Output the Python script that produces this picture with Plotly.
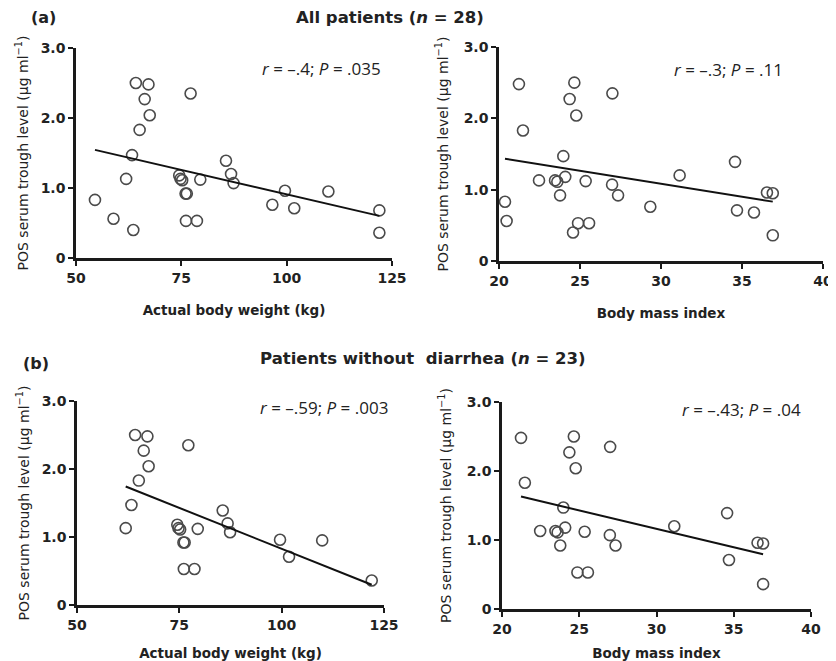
import numpy as np
import plotly.graph_objects as go

# Per-patient data (n = 28)
weight_kg = [54.5, 58.9, 63.6, 96.6, 122.0, 61.9, 63.3, 65.1, 64.2, 67.2, 66.3, 67.5, 77.2, 74.5,
             74.8, 75.2, 76.0, 76.3, 76.1, 78.7, 79.5, 85.6, 86.8, 87.4, 99.6, 101.8, 109.9, 122.0]
bmi = [20.37, 20.47, 24.57, 29.34, 35.74, 22.47, 23.97, 21.48, 24.65, 21.23, 24.36, 24.77, 27.0, 24.09,
       23.46, 23.6, 23.77, 27.35, 24.88, 25.56, 25.35, 34.57, 31.15, 26.98, 36.54, 34.69, 36.9, 36.9]
trough = [0.83, 0.56, 0.40, 0.76, 0.68, 1.13, 1.47, 1.83, 2.50, 2.48, 2.27, 2.04, 2.35, 1.18,
          1.13, 1.11, 0.92, 0.92, 0.53, 0.53, 1.12, 1.39, 1.20, 1.07, 0.96, 0.71, 0.95, 0.36]
diarrhea = [1, 1, 1, 1, 1, 0, 0, 0, 0, 0, 0, 0, 0, 0,
            0, 0, 0, 0, 0, 0, 0, 0, 0, 0, 0, 0, 0, 0]

stats_text = ["<i>r</i> = –.4; <i>P</i> = .035", "<i>r</i> = –.3; <i>P</i> = .11",
              "<i>r</i> = –.59; <i>P</i> = .003", "<i>r</i> = –.43; <i>P</i> = .04"]
y_ticks = [0, 1, 2, 3]
y_tick_labels = ["0", "1.0", "2.0", "3.0"]
weight_ticks = [50, 75, 100, 125]
bmi_ticks = [20, 25, 30, 35, 40]

# the page body margin offsets the figure by 8px; size the figure to fill the window
OFF = 8
W, H = 836 - OFF, 661 - OFF
def fx(p): return (p - OFF) / W
def fy(p): return 1 - (p - OFF) / H

INK = "#222222"
panels = [
    # key, x px span, y px span (top, bottom), x range, ticks, x title, stats idx, subset, x-title standoff, y-title standoff
    ("w", (76, 392), (48, 258), [50, 125], weight_ticks, "Actual body weight (kg)", 0, "all", 22, 9),
    ("b", (499, 823), (47, 261), [20, 40], bmi_ticks, "Body mass index", 1, "all", 22, 12),
    ("w", (77, 384), (401, 605), [50, 125], weight_ticks, "Actual body weight (kg)", 2, "nodiar", 20, 9),
    ("b", (502, 811), (402, 609), [20, 40], bmi_ticks, "Body mass index", 3, "nodiar", 20, 12),
]
stat_pos = [(383, 68), (785, 69), (390, 407), (803, 409)]

fig = go.Figure()
layout = {}
annotations = []
for i, (key, dx, dy, xr, xt, xtitle, si, subset, xstand, ystand) in enumerate(panels):
    n = i + 1
    xs_all = weight_kg if key == "w" else bmi
    idx = [k for k in range(len(trough)) if subset == "all" or diarrhea[k] == 0]
    xs = np.array([xs_all[k] for k in idx])
    ys = np.array([trough[k] for k in idx])
    xa = "x" if n == 1 else f"x{n}"
    ya = "y" if n == 1 else f"y{n}"
    fig.add_trace(go.Scatter(x=xs, y=ys, mode="markers", xaxis=xa, yaxis=ya,
                             marker=dict(symbol="circle-open", size=11,
                                         line=dict(width=1.6, color="#4a4a4a"), color="#4a4a4a"),
                             showlegend=False, cliponaxis=False))
    slope, icpt = np.polyfit(xs, ys, 1)
    lx = np.array([xs.min(), xs.max()])
    fig.add_trace(go.Scatter(x=lx, y=slope * lx + icpt, mode="lines", xaxis=xa, yaxis=ya,
                             line=dict(color="#111111", width=2), showlegend=False))
    axis_common = dict(showline=True, linecolor="#1a1a1a", linewidth=2.5, ticks="outside",
                       ticklen=5, tickwidth=2, tickcolor="#1a1a1a", showgrid=False, zeroline=False,
                       automargin=False,
                       tickfont=dict(family="DejaVu Sans", size=14, color=INK, weight="bold"))
    layout["xaxis" if n == 1 else f"xaxis{n}"] = dict(
        axis_common, domain=[fx(dx[0]), fx(dx[1])], range=xr, tickvals=xt,
        ticktext=[str(t) for t in xt],
        anchor=ya, title=dict(text=xtitle, standoff=xstand,
                              font=dict(family="DejaVu Sans", size=13.5, color=INK, weight="bold")))
    layout["yaxis" if n == 1 else f"yaxis{n}"] = dict(
        axis_common, domain=[fy(dy[1]), fy(dy[0])], range=[0, 3], tickvals=y_ticks,
        ticktext=y_tick_labels, anchor=xa,
        title=dict(text="POS serum trough level (μg ml<sup>−1</sup>)", standoff=ystand,
                   font=dict(family="DejaVu Sans", size=14, color=INK)))
    sx, sy = stat_pos[i]
    annotations.append(dict(text=stats_text[si], x=fx(sx), y=fy(sy), xref="paper", yref="paper",
                            xanchor="right", yanchor="middle", showarrow=False,
                            font=dict(family="Open Sans", size=17, color=INK)))

annotations += [
    dict(text="(a)", x=fx(29), y=fy(17.5), xref="paper", yref="paper", xanchor="left",
         yanchor="middle", showarrow=False,
         font=dict(family="DejaVu Sans", size=16, color=INK, weight="bold")),
    dict(text="(b)", x=fx(21), y=fy(363), xref="paper", yref="paper", xanchor="left",
         yanchor="middle", showarrow=False,
         font=dict(family="DejaVu Sans", size=16, color=INK, weight="bold")),
    dict(text="All patients (<i>n</i> = 28)", x=fx(390), y=fy(17.5), xref="paper", yref="paper",
         xanchor="center", yanchor="middle", showarrow=False,
         font=dict(family="DejaVu Sans", size=16.5, color=INK, weight="bold")),
    dict(text="Patients without  diarrhea (<i>n</i> = 23)", x=fx(423), y=fy(358), xref="paper",
         yref="paper", xanchor="center", yanchor="middle", showarrow=False,
         font=dict(family="DejaVu Sans", size=16.5, color=INK, weight="bold")),
]

fig.update_layout(width=W, height=H, margin=dict(l=0, r=0, t=0, b=0, autoexpand=False),
                  plot_bgcolor="white", paper_bgcolor="white", annotations=annotations, **layout)
fig.write_html("out.html")
